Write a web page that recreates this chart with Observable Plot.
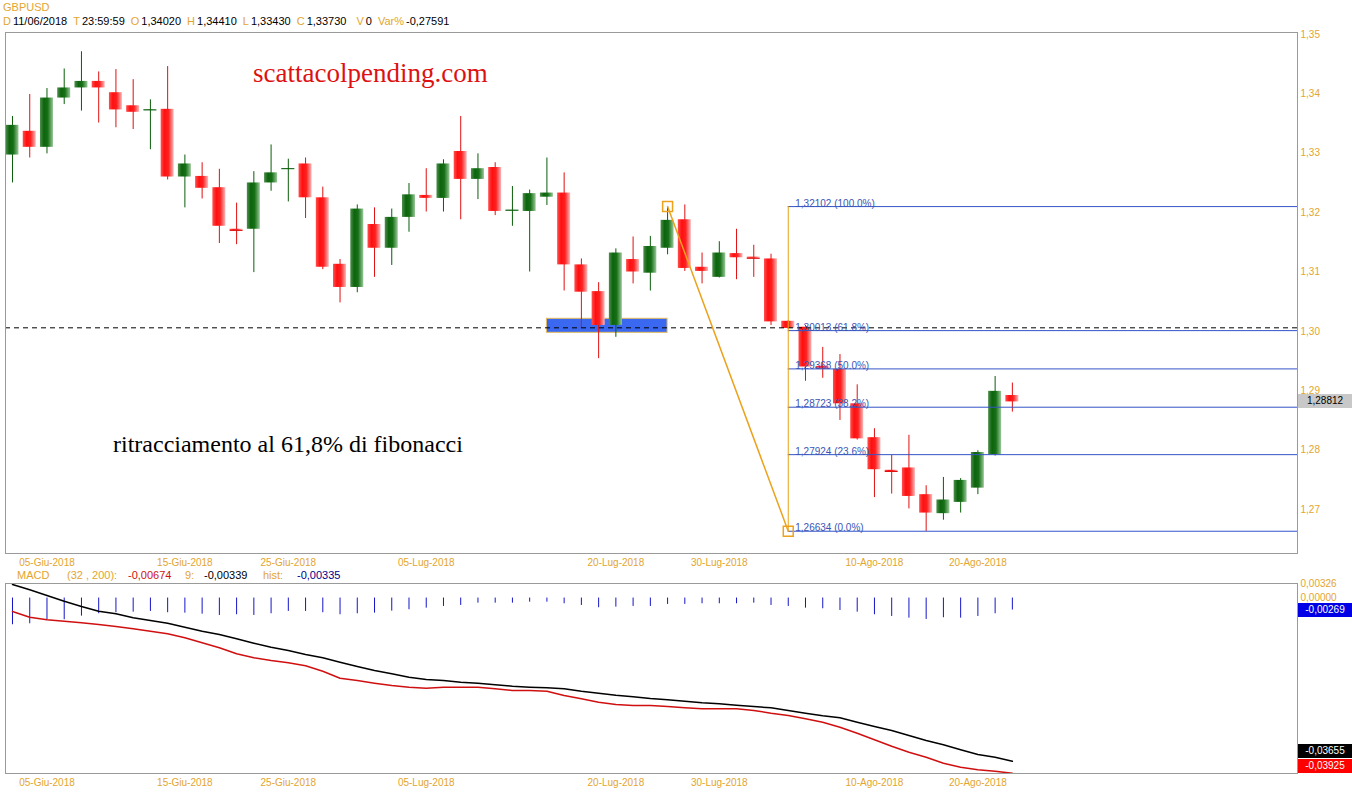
<!DOCTYPE html>
<html><head><meta charset="utf-8">
<script src="https://cdn.jsdelivr.net/npm/d3@7"></script>
<script src="https://cdn.jsdelivr.net/npm/@observablehq/plot@0.6"></script>
<style>
html,body{margin:0;padding:0;background:#fff;}
body{position:relative;width:1352px;height:800px;overflow:hidden;font-family:"Liberation Sans",Arial,sans-serif;}
.abs{position:absolute;white-space:pre;}
.or{color:#e3a52e;}
.hd{font-size:11px;line-height:13px;}
.hd .k{color:#e3a52e;margin-left:6px;}
.hd .k:first-child{margin-left:0;}
.hd .v{margin-left:2px;color:#000;}
.box{position:absolute;left:1298px;width:54px;height:14px;line-height:14px;font-size:10px;text-align:center;}
</style></head><body>
<div id="main" class="abs" style="left:0;top:0"></div>
<div id="macd" class="abs" style="left:0;top:575px"></div>
<div class="abs or" style="left:3px;top:1px;font-size:11px;line-height:13px">GBPUSD</div>
<div class="abs hd" style="left:3px;top:15px"><span class="k">D</span><span class="v">11/06/2018</span><span class="k">T</span><span class="v">23:59:59</span><span class="k">O</span><span class="v">1,34020</span><span class="k">H</span><span class="v">1,34410</span><span class="k">L</span><span class="v">1,33430</span><span class="k">C</span><span class="v">1,33730</span><span class="k" style="margin-left:10px">V</span><span class="v">0</span><span class="k">Var%</span><span class="v">-0,27591</span></div>
<div class="abs hd or" style="left:17px;top:569px">MACD</div>
<div class="abs hd or" style="left:67px;top:569px">(32 , 200):</div>
<div class="abs hd" style="left:128px;top:569px;color:#d01010">-0,00674</div>
<div class="abs hd or" style="left:185px;top:569px">9:</div>
<div class="abs hd" style="left:204px;top:569px;color:#000">-0,00339</div>
<div class="abs hd or" style="left:263px;top:569px">hist:</div>
<div class="abs hd" style="left:297px;top:569px;color:#00008b">-0,00335</div>
<div class="abs" style="left:253px;top:60px;font-family:'Liberation Serif','Times New Roman',serif;font-size:27px;line-height:27px;color:#dd1111">scattacolpending.com</div>
<div class="abs" style="left:113px;top:432px;font-family:'Liberation Serif','Times New Roman',serif;font-size:24px;line-height:24px;color:#000">ritracciamento al 61,8% di fibonacci</div>
<script>
// ---- data ----
const opens = [1.3297,1.3337,1.3310,1.3393,1.3410,1.3421,1.3402,1.3380,1.3372,1.3374,
1.3260,1.3261,1.3242,1.3172,1.3172,1.3250,1.3273,1.3282,1.3225,1.3113,
1.3074,1.3180,1.3140,1.3192,1.3229,1.3224,1.3303,1.3256,1.3276,1.3203,
1.3202,1.3226,1.3233,1.3112,1.3067,1.3010,1.3121,1.3098,1.3140,1.3188,
1.3108,1.3091,1.3131,1.3125,1.3122,1.3017,1.3007,1.2941,1.2936,1.2878,
1.2821,1.2766,1.2770,1.2725,1.2693,1.2712,1.2736,1.2792,1.2892];
const highs = [1.3362,1.3399,1.3409,1.3442,1.3471,1.3437,1.3441,1.3424,1.3390,1.3446,
1.3297,1.3284,1.3273,1.3216,1.3269,1.3314,1.3290,1.3292,1.3243,1.3121,
1.3213,1.3208,1.3206,1.3249,1.3274,1.3289,1.3362,1.3299,1.3284,1.3244,
1.3238,1.3292,1.3267,1.3122,1.3082,1.3139,1.3159,1.3160,1.3210,1.3213,
1.3132,1.3151,1.3172,1.3145,1.3130,1.3018,1.3010,1.2973,1.2961,1.2910,
1.2836,1.2791,1.2825,1.2740,1.2754,1.2752,1.2799,1.2924,1.2913];
const lows = [1.3250,1.3292,1.3299,1.3382,1.3371,1.3351,1.3343,1.3340,1.3306,1.3255,
1.3208,1.3223,1.3148,1.3146,1.3099,1.3236,1.3218,1.3190,1.3104,1.3048,
1.3065,1.3091,1.3111,1.3167,1.3201,1.3201,1.3188,1.3222,1.3195,1.3177,
1.3100,1.3212,1.3068,1.3005,1.2954,1.2990,1.3080,1.3068,1.3129,1.3101,
1.3080,1.3090,1.3087,1.3091,1.3010,1.3003,1.2916,1.2921,1.2850,1.2817,
1.2720,1.2726,1.2701,1.2663,1.2682,1.2694,1.2725,1.2790,1.2864];
const closes = [1.3347,1.3310,1.3393,1.3410,1.3421,1.3410,1.3373,1.3369,1.3373,1.3260,
1.3282,1.3241,1.3177,1.3170,1.3250,1.3267,1.3274,1.3225,1.3108,1.3074,
1.3206,1.3140,1.3192,1.3230,1.3224,1.3282,1.3256,1.3274,1.3202,1.3204,
1.3232,1.3233,1.3112,1.3066,1.3010,1.3132,1.3100,1.3143,1.3187,1.3106,
1.3101,1.3132,1.3124,1.3123,1.3016,1.3005,1.2940,1.2938,1.2878,1.2819,
1.2767,1.2764,1.2722,1.2694,1.2716,1.2749,1.2796,1.2899,1.28812];

const histVals = [-0.00598,-0.00576,-0.00486,-0.00486,-0.00405,-0.00352,-0.00329,-0.00316,-0.00300,-0.00329,
-0.00338,-0.00361,-0.00390,-0.00374,-0.00390,-0.00352,-0.00300,-0.00300,-0.00329,-0.00374,
-0.00352,-0.00338,-0.00293,-0.00262,-0.00226,-0.00188,-0.00166,-0.00114,-0.00114,-0.00114,
-0.00092,-0.00092,-0.00128,-0.00166,-0.00217,-0.00204,-0.00188,-0.00188,-0.00143,-0.00143,
-0.00128,-0.00128,-0.00128,-0.00114,-0.00166,-0.00188,-0.00226,-0.00240,-0.00278,-0.00316,
-0.00374,-0.00412,-0.00450,-0.00479,-0.00441,-0.00450,-0.00412,-0.00352,-0.00269];
const signalVals = [0.00304,0.00184,0.00057,-0.00071,-0.00189,-0.00295,-0.00353,-0.00442,-0.00503,-0.00563,
-0.00653,-0.00742,-0.00816,-0.00913,-0.01011,-0.01101,-0.01175,-0.01265,-0.01339,-0.01437,
-0.01533,-0.01623,-0.01697,-0.01773,-0.01825,-0.01847,-0.01885,-0.01907,-0.01943,-0.01975,
-0.01997,-0.02011,-0.02033,-0.02087,-0.02131,-0.02176,-0.02212,-0.02250,-0.02279,-0.02310,
-0.02346,-0.02369,-0.02400,-0.02429,-0.02459,-0.02519,-0.02579,-0.02638,-0.02682,-0.02780,
-0.02877,-0.02967,-0.03079,-0.03191,-0.03287,-0.03399,-0.03505,-0.03565,-0.03655];
const macdVals = [-0.00301,-0.00429,-0.00487,-0.00519,-0.00554,-0.00592,-0.00637,-0.00689,-0.00742,-0.00801,
-0.00890,-0.01002,-0.01114,-0.01249,-0.01339,-0.01399,-0.01450,-0.01518,-0.01639,-0.01795,
-0.01847,-0.01907,-0.01959,-0.01997,-0.02019,-0.01997,-0.01997,-0.01997,-0.02033,-0.02071,
-0.02071,-0.02087,-0.02183,-0.02257,-0.02333,-0.02385,-0.02407,-0.02407,-0.02429,-0.02459,
-0.02481,-0.02481,-0.02481,-0.02519,-0.02579,-0.02630,-0.02705,-0.02780,-0.02893,-0.03027,
-0.03175,-0.03319,-0.03453,-0.03565,-0.03699,-0.03789,-0.03847,-0.03878,-0.03925];

const tickIdx = [2,10,16,24,35,41,50,56];
const tickLabels = ["05-Giu-2018","15-Giu-2018","25-Giu-2018","05-Lug-2018","20-Lug-2018","30-Lug-2018","10-Ago-2018","20-Ago-2018"];
const priceTicks = [1.27,1.28,1.29,1.30,1.31,1.32,1.33,1.34,1.35];
const macdTicks = [0.00326, 0];

const fibLevels = [1.32102,1.30013,1.29368,1.28723,1.27924,1.26634];
const fibPct = ["100.0%","61.8%","50.0%","38.2%","23.6%","0.0%"];
const fibStart = 45;           // bar index where the retracement is drawn
const fibAnchorIdx = [38, 45]; // swing high / low anchors (bar index)
const fibAnchorPrice = [1.32102, 1.26634];
const dashedLevel = 1.3006;
const zoneIdx = [31, 38];
const zonePrice = [1.29976, 1.30212];

// ---- layout ----
const ORANGE = "#e3a52e";
const xMin = -0.406, xMax = 74.54;
const fmt = (v, n) => v.toFixed(n).replace(".", ",");
const hw = 0.377;

const candles = opens.map((o, i) => ({i, o, h: highs[i], l: lows[i], c: closes[i]}));
const up = candles.filter(d => d.c >= d.o);
const dn = candles.filter(d => d.c < d.o);
const doji = candles.filter(d => Math.abs(d.c - d.o) < 0.0003);
const fibAnchors = fibAnchorIdx.map((i, k) => ({i, p: fibAnchorPrice[k]}));

const font = "'Liberation Sans', Arial, sans-serif";

const mainChart = Plot.plot({
  width: 1352, height: 575,
  marginTop: 32, marginBottom: 22, marginLeft: 5, marginRight: 55,
  x: {domain: [xMin, xMax], label: null},
  y: {domain: [1.26259, 1.35034], label: null},
  style: {fontFamily: font, fontSize: "10px", background: "white", overflow: "visible"},
  marks: [
    Plot.rect([0], {x1: () => zoneIdx[0], x2: () => zoneIdx[1], y1: () => zonePrice[0], y2: () => zonePrice[1], fill: "#3a68f0", stroke: "#e6bd5a", strokeWidth: 1}),
    Plot.ruleX(up, {x: "i", y1: "l", y2: "h", stroke: "#0b5e0b"}),
    Plot.ruleX(dn, {x: "i", y1: "l", y2: "h", stroke: "#e01010"}),
    Plot.rect(up, {x1: d => d.i - hw, x2: d => d.i + hw, y1: "o", y2: "c", fill: "url(#gUp)"}),
    Plot.rect(dn, {x1: d => d.i - hw, x2: d => d.i + hw, y1: "o", y2: "c", fill: "url(#gDn)"}),
    Plot.ruleY(doji, {y: "c", x1: d => d.i - hw, x2: d => d.i + hw, stroke: d => d.c >= d.o ? "#0b5e0b" : "#e01010"}),
    Plot.ruleY([dashedLevel], {stroke: "#000", strokeDasharray: "5,4"}),
    Plot.ruleY(fibLevels, {y: d => d, x1: () => fibStart, x2: () => xMax, stroke: "#3454c8"}),
    Plot.text(fibLevels, {x: () => fibStart, y: d => d, text: (d, i) => `${fmt(d, 5)} (${fibPct[i]})`, dx: 7, dy: 0, lineAnchor: "bottom", textAnchor: "start", fill: "#3a55b5", fontSize: 10}),
    Plot.ruleX([fibStart], {y1: () => fibAnchorPrice[1], y2: () => fibAnchorPrice[0], stroke: "#e8a317"}),
    Plot.line(fibAnchors, {x: "i", y: "p", stroke: "#eca21c"}),
    Plot.dot(fibAnchors, {x: "i", y: "p", symbol: "square", r: 5.6, stroke: "#eca21c", fill: "none"}),
    Plot.frame({stroke: "#9a9a9a"}),
    Plot.axisX({ticks: tickIdx, tickFormat: d => tickLabels[tickIdx.indexOf(d)], tickSize: 0, tickPadding: 5, fill: ORANGE, label: null}),
    Plot.axisY({anchor: "right", ticks: priceTicks, tickFormat: d => fmt(d, 2), tickSize: 0, tickPadding: 3, fill: ORANGE, label: null})
  ]
});

const defs = d3.select(mainChart).insert("defs", ":first-child");
function grad(id, stops) {
  const g = defs.append("linearGradient").attr("id", id).attr("x1", 0).attr("x2", 1).attr("y1", 0).attr("y2", 0);
  stops.forEach(([o, c]) => g.append("stop").attr("offset", o).attr("stop-color", c));
}
grad("gUp", [[0, "#4f8f4f"], [0.3, "#0c640c"], [0.6, "#167016"], [1, "#9ac79a"]]);
grad("gDn", [[0, "#ff5050"], [0.3, "#ff0f0f"], [0.6, "#ff2020"], [1, "#ffb8b8"]]);
document.getElementById("main").append(mainChart);

const macdChart = Plot.plot({
  width: 1352, height: 225,
  marginTop: 8, marginBottom: 27, marginLeft: 5, marginRight: 55,
  x: {domain: [xMin, xMax], label: null},
  y: {domain: [-0.0393, 0.00326], label: null},
  style: {fontFamily: font, fontSize: "10px", background: "white", overflow: "visible"},
  marks: [
    Plot.ruleX(histVals, {x: (d, i) => i, y1: () => 0, y2: d => d, stroke: "#1515c8"}),
    Plot.line(signalVals, {x: (d, i) => i, y: d => d, stroke: "#000"}),
    Plot.line(macdVals, {x: (d, i) => i, y: d => d, stroke: "#d01010"}),
    Plot.frame({stroke: "#9a9a9a"}),
    Plot.axisX({ticks: tickIdx, tickFormat: d => tickLabels[tickIdx.indexOf(d)], tickSize: 0, tickPadding: 5, fill: ORANGE, label: null}),
    Plot.axisY({anchor: "right", ticks: macdTicks, tickFormat: d => fmt(d, 5), tickSize: 0, tickPadding: 3, fill: ORANGE, label: null})
  ]
});
document.getElementById("macd").append(macdChart);

// value boxes on the right axes
function box(y, text, bg, color) {
  const b = document.createElement("div");
  b.className = "box";
  b.style.top = (y - 7) + "px";
  b.style.background = bg;
  b.style.color = color;
  b.textContent = text;
  document.body.append(b);
}
const lastClose = closes[closes.length - 1];
box(mainChart.scale("y").apply(lastClose), fmt(lastClose, 5), "#c8c8c8", "#000");
const my = v => 575 + macdChart.scale("y").apply(v);
const lastHist = histVals[histVals.length - 1], lastSig = signalVals[signalVals.length - 1], lastMacd = macdVals[macdVals.length - 1];
const bottomY = 575 + 225 - 27 - 7;
const redY = Math.min(my(lastMacd), bottomY);
const blackY = Math.min(my(lastSig), redY - 15);
box(my(lastHist), fmt(lastHist, 5), "#0000e6", "#fff");
box(blackY, fmt(lastSig, 5), "#000", "#fff");
box(redY, fmt(lastMacd, 5), "#ff0000", "#fff");
</script>
</body></html>
